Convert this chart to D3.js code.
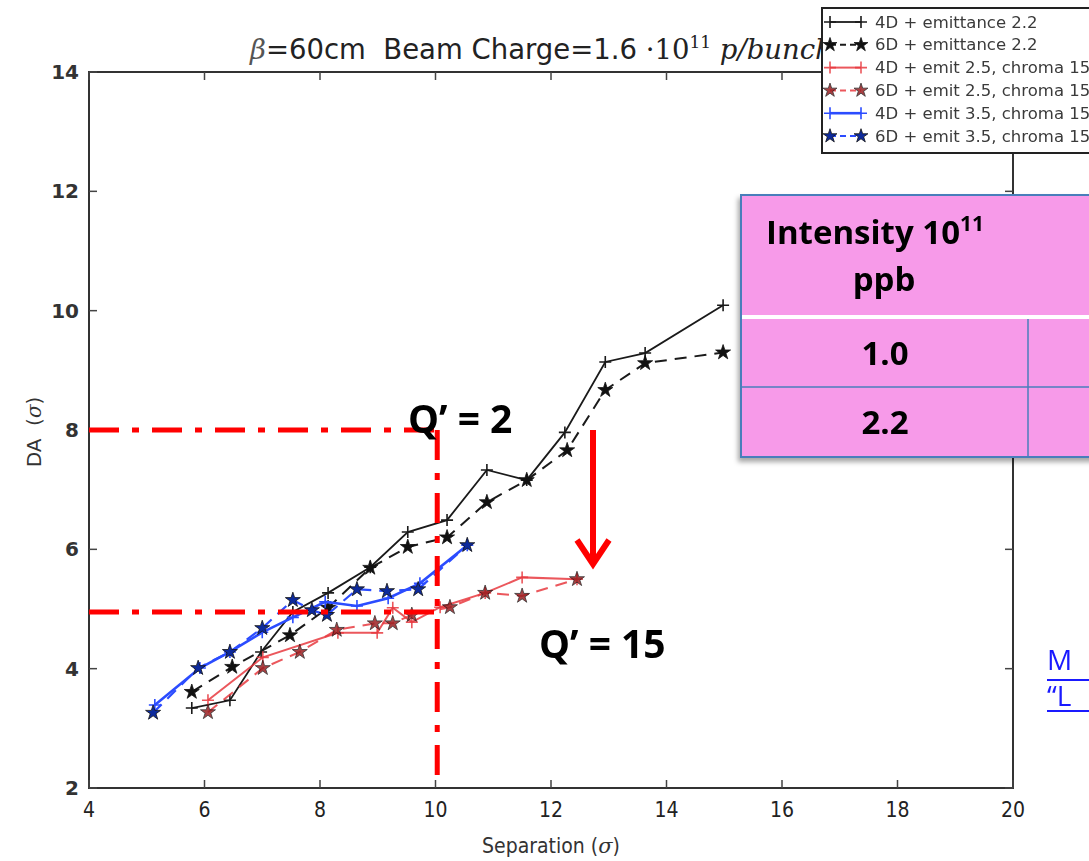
<!DOCTYPE html>
<html>
<head>
<meta charset="utf-8">
<script src="https://cdn.jsdelivr.net/npm/d3@7"></script>
<style>
  html, body { margin: 0; padding: 0; background: #fff; }
  svg { display: block; }
  text { white-space: pre; }
</style>
</head>
<body>
<svg id="chart" width="1089" height="861"></svg>
<script>
// axis ticks
const xTicks = [4, 6, 8, 10, 12, 14, 16, 18, 20];
const yTicks = [2, 4, 6, 8, 10, 12, 14];

// 4D + emittance 2.2
const sep4dE22 = [5.78, 6.44, 6.98, 7.53, 8.14, 8.87, 9.52, 10.20, 10.89, 11.58, 12.24, 12.94, 13.63, 14.98];
const da4dE22 = [3.34, 3.47, 4.28, 4.95, 5.27, 5.70, 6.29, 6.49, 7.33, 7.16, 7.96, 9.14, 9.29, 10.09];
// 6D + emittance 2.2
const sep6dE22 = [5.78, 6.48, 7.48, 8.14, 8.87, 9.52, 10.20, 10.89, 11.58, 12.28, 12.94, 13.63, 14.98];
const da6dE22 = [3.61, 4.03, 4.56, 5.02, 5.69, 6.04, 6.20, 6.79, 7.16, 7.66, 8.67, 9.12, 9.30];
// 4D + emit 2.5, chroma 15
const sep4dE25 = [6.06, 7.01, 8.31, 8.99, 9.26, 9.59, 10.08, 10.86, 11.50, 12.45];
const da4dE25 = [3.47, 4.19, 4.60, 4.60, 5.02, 4.78, 5.03, 5.27, 5.53, 5.50];
// 6D + emit 2.5, chroma 15
const sep6dE25 = [6.06, 7.01, 7.65, 8.29, 8.95, 9.26, 9.59, 10.25, 10.86, 11.50, 12.45];
const da6dE25 = [3.27, 4.01, 4.28, 4.65, 4.76, 4.76, 4.90, 5.03, 5.27, 5.22, 5.50];
// 4D + emit 3.5, chroma 15
const sep4dE35 = [5.14, 5.92, 6.44, 7.00, 7.53, 8.09, 8.64, 9.18, 9.73, 10.55];
const da4dE35 = [3.39, 4.01, 4.28, 4.61, 4.86, 5.12, 5.05, 5.18, 5.43, 6.07];
// 6D + emit 3.5, chroma 15
const sep6dE35 = [5.11, 5.89, 6.44, 7.00, 7.53, 7.86, 8.12, 8.64, 9.16, 9.70, 10.55];
const da6dE35 = [3.26, 4.01, 4.28, 4.68, 5.15, 4.98, 4.90, 5.33, 5.30, 5.33, 6.07];

const seriesNames = [
    "4D + emittance 2.2",
    "6D + emittance 2.2",
    "4D + emit 2.5, chroma 15",
    "6D + emit 2.5, chroma 15",
    "4D + emit 3.5, chroma 15",
    "6D + emit 3.5, chroma 15"
];

// Q' guide lines (separation, DA)
const guideSep = 10.03;
const guideDaHigh = 8.0;
const guideDaLow = 4.95;

// table on the right
const tableHeader = ["Intensity 10", "11", "ppb"];
const tableRows = ["1.0", "2.2"];

const svg = d3.select("#chart");
const margin = { left: 89, top: 72, right: 1013, bottom: 788 };

const x = d3.scaleLinear().domain([4, 20]).range([margin.left, margin.right]);
const y = d3.scaleLinear().domain([2, 14]).range([margin.bottom, margin.top]);

const zip = (xs, ys) => xs.map((v, i) => [v, ys[i]]);

const series = [
    { name: seriesNames[0], pts: zip(sep4dE22, da4dE22), color: "#1a1a1a", dash: null, marker: "plus", mfill: "#1a1a1a", width: 1.8, opacity: 1 },
    { name: seriesNames[1], pts: zip(sep6dE22, da6dE22), color: "#1a1a1a", dash: "12,8", marker: "star", mfill: "#111", width: 2, opacity: 1 },
    { name: seriesNames[2], pts: zip(sep4dE25, da4dE25), color: "#e8393f", dash: null, marker: "plus", mfill: "#e8393f", width: 2, opacity: 0.85 },
    { name: seriesNames[3], pts: zip(sep6dE25, da6dE25), color: "#e8393f", dash: "12,8", marker: "star", mfill: "#9a1f22", width: 2, opacity: 0.85 },
    { name: seriesNames[4], pts: zip(sep4dE35, da4dE35), color: "#2b4cff", dash: null, marker: "plus", mfill: "#2b4cff", width: 2.6, opacity: 1 },
    { name: seriesNames[5], pts: zip(sep6dE35, da6dE35), color: "#2b4cff", dash: "12,8", marker: "star", mfill: "#0d2a9c", width: 2.2, opacity: 1 }
];

// title (partly hidden behind legend, as in the figure)
const title = svg.append("text")
    .attr("x", 250)
    .attr("y", 59)
    .attr("font-family", "DejaVu Sans")
    .attr("font-size", 27.5)
    .attr("fill", "#222");
title.append("tspan").attr("font-family", "DejaVu Serif").attr("font-style", "italic").attr("fill", "#555").text("β");
title.append("tspan").text("=60cm  Beam Charge=1.6 ");
title.append("tspan").attr("font-family", "DejaVu Serif").text("·10");
title.append("tspan").attr("font-family", "DejaVu Serif").attr("font-size", 17).attr("dy", -11).text("11");
title.append("tspan").attr("font-family", "DejaVu Serif").attr("font-style", "italic").attr("dy", 11).text(" p/bunch");

// plot frame
svg.append("rect")
    .attr("x", margin.left)
    .attr("y", margin.top)
    .attr("width", margin.right - margin.left)
    .attr("height", margin.bottom - margin.top)
    .attr("fill", "none")
    .attr("stroke", "#333")
    .attr("stroke-width", 2);

// inward ticks on all four sides
const tickLen = 8;
const tickG = svg.append("g").attr("stroke", "#444").attr("stroke-width", 1.5);
xTicks.forEach((t) => {
    tickG.append("line").attr("x1", x(t)).attr("x2", x(t)).attr("y1", margin.bottom).attr("y2", margin.bottom - tickLen);
    tickG.append("line").attr("x1", x(t)).attr("x2", x(t)).attr("y1", margin.top).attr("y2", margin.top + tickLen);
});
yTicks.forEach((t) => {
    tickG.append("line").attr("x1", margin.left).attr("x2", margin.left + tickLen).attr("y1", y(t)).attr("y2", y(t));
    tickG.append("line").attr("x1", margin.right).attr("x2", margin.right - tickLen).attr("y1", y(t)).attr("y2", y(t));
});

svg.append("g")
    .selectAll("text")
    .data(xTicks)
    .enter()
    .append("text")
    .attr("x", (d) => x(d))
    .attr("y", 817)
    .attr("text-anchor", "middle")
    .attr("font-family", "DejaVu Sans Condensed, DejaVu Sans")
    .attr("font-size", 21)
    .attr("fill", "#222")
    .text((d) => d);

svg.append("g")
    .selectAll("text")
    .data(yTicks)
    .enter()
    .append("text")
    .attr("x", 79)
    .attr("y", (d) => y(d) + 7)
    .attr("text-anchor", "end")
    .attr("font-family", "DejaVu Sans")
    .attr("font-weight", "bold")
    .attr("font-size", 20)
    .attr("fill", "#333")
    .text((d) => d);

// axis labels
const xl = svg.append("text")
    .attr("x", 551)
    .attr("y", 853)
    .attr("text-anchor", "middle")
    .attr("font-family", "DejaVu Sans Condensed, DejaVu Sans")
    .attr("font-size", 21)
    .attr("fill", "#333");
xl.append("tspan").text("Separation (");
xl.append("tspan").attr("font-family", "DejaVu Serif").attr("font-style", "italic").text("σ");
xl.append("tspan").text(")");

const yl = svg.append("text")
    .attr("transform", "translate(41,432) rotate(-90)")
    .attr("text-anchor", "middle")
    .attr("font-family", "DejaVu Sans")
    .attr("font-size", 20)
    .attr("fill", "#333");
yl.append("tspan").text("DA  (");
yl.append("tspan").attr("font-family", "DejaVu Serif").attr("font-style", "italic").text("σ");
yl.append("tspan").text(")");

// markers
function drawMarker(g, kind, fill, color, px, py, size) {
    if (kind === "star") {
        g.append("path")
            .attr("d", d3.symbol().type(d3.symbolStar).size(size || 70)())
            .attr("transform", `translate(${px},${py})`)
            .attr("fill", fill)
            .attr("stroke", "#111")
            .attr("stroke-width", 0.8);
    } else {
        const h = 6;
        g.append("path")
            .attr("d", `M${px - h},${py}H${px + h}M${px},${py - h}V${py + h}`)
            .attr("stroke", color)
            .attr("stroke-width", 1.6)
            .attr("fill", "none");
    }
}

const line = d3.line().x((d) => x(d[0])).y((d) => y(d[1]));
const dataG = svg.append("g");

series.forEach((s) => {
    dataG.append("path")
        .attr("d", line(s.pts))
        .attr("fill", "none")
        .attr("stroke", s.color)
        .attr("stroke-width", s.width)
        .attr("stroke-opacity", s.opacity)
        .attr("stroke-dasharray", s.dash);
    const mg = dataG.append("g").attr("opacity", s.opacity);
    s.pts.forEach((p) => drawMarker(mg, s.marker, s.mfill, s.color, x(p[0]), y(p[1])));
});

// red dash-dot guide lines
const guideG = svg.append("g")
    .attr("stroke", "#ff0000")
    .attr("stroke-width", 5)
    .attr("stroke-dasharray", "30,13,7,13")
    .attr("fill", "none");
guideG.append("line").attr("x1", x(4)).attr("x2", x(guideSep)).attr("y1", y(guideDaHigh)).attr("y2", y(guideDaHigh));
guideG.append("line").attr("x1", x(4)).attr("x2", x(guideSep)).attr("y1", y(guideDaLow)).attr("y2", y(guideDaLow));
guideG.append("line").attr("x1", x(guideSep)).attr("x2", x(guideSep)).attr("y1", y(guideDaHigh)).attr("y2", y(2));

// Q' annotations
svg.append("text")
    .attr("x", 408)
    .attr("y", 433)
    .attr("font-family", "Open Sans")
    .attr("font-weight", "bold")
    .attr("font-size", 39)
    .attr("fill", "#000")
    .text("Q\u2019 = 2");
svg.append("text")
    .attr("x", 539)
    .attr("y", 658)
    .attr("font-family", "Open Sans")
    .attr("font-weight", "bold")
    .attr("font-size", 39)
    .attr("fill", "#000")
    .text("Q\u2019 = 15");

// red arrow
svg.append("path")
    .attr("d", "M593,430V564M577,540L593,564L609,540")
    .attr("fill", "none")
    .attr("stroke", "#ff0000")
    .attr("stroke-width", 6);

// legend
const legG = svg.append("g");
legG.append("rect")
    .attr("x", 822)
    .attr("y", 8)
    .attr("width", 300)
    .attr("height", 145)
    .attr("fill", "#fff")
    .attr("stroke", "#222")
    .attr("stroke-width", 2);
series.forEach((s, i) => {
    const ry = 22 + i * 22.8;
    legG.append("line")
        .attr("x1", 830).attr("x2", 861).attr("y1", ry).attr("y2", ry)
        .attr("stroke", s.color)
        .attr("stroke-width", s.width)
        .attr("stroke-opacity", s.opacity)
        .attr("stroke-dasharray", s.dash ? "6,4" : null);
    const mg = legG.append("g").attr("opacity", s.opacity);
    drawMarker(mg, s.marker, s.mfill, s.color, 830, ry, 60);
    drawMarker(mg, s.marker, s.mfill, s.color, 861, ry, 60);
    legG.append("text")
        .attr("x", 875)
        .attr("y", ry + 5.5)
        .attr("font-family", "DejaVu Sans")
        .attr("font-size", 16.5)
        .attr("fill", "#3a3a3a")
        .text(s.name);
});

// pink table
const defs = svg.append("defs");
defs.append("filter")
    .attr("id", "shadow")
    .attr("x", "-10%").attr("y", "-10%").attr("width", "130%").attr("height", "130%")
    .append("feDropShadow")
    .attr("dx", -2).attr("dy", 4).attr("stdDeviation", 2.5)
    .attr("flood-color", "#000").attr("flood-opacity", 0.35);

const tbl = svg.append("g");
const tx0 = 741, ty0 = 195, ty1 = 457, tx1 = 1200;
tbl.append("rect")
    .attr("x", tx0).attr("y", ty0)
    .attr("width", tx1 - tx0).attr("height", ty1 - ty0)
    .attr("fill", "#f79ae9")
    .attr("stroke", "#4a7ebb")
    .attr("stroke-width", 2)
    .attr("filter", "url(#shadow)");
tbl.append("line").attr("x1", tx0 + 1).attr("x2", 1089).attr("y1", 317).attr("y2", 317)
    .attr("stroke", "#fff").attr("stroke-width", 4);
tbl.append("line").attr("x1", tx0).attr("x2", 1089).attr("y1", 387).attr("y2", 387)
    .attr("stroke", "#4a7ebb").attr("stroke-width", 1.5);
tbl.append("line").attr("x1", 1028).attr("x2", 1028).attr("y1", 319).attr("y2", ty1)
    .attr("stroke", "#4a7ebb").attr("stroke-width", 1.5);

const hdr = tbl.append("text")
    .attr("x", 766).attr("y", 244)
    .attr("font-family", "Open Sans").attr("font-weight", "bold")
    .attr("font-size", 33).attr("fill", "#000");
hdr.append("tspan").text(tableHeader[0]);
hdr.append("tspan").attr("font-size", 21).attr("dy", -13).text(tableHeader[1]);
tbl.append("text")
    .attr("x", 884).attr("y", 291).attr("text-anchor", "middle")
    .attr("font-family", "Open Sans").attr("font-weight", "bold")
    .attr("font-size", 33).attr("fill", "#000")
    .text(tableHeader[2]);
tableRows.forEach((r, i) => {
    tbl.append("text")
        .attr("x", 885).attr("y", 365 + i * 69).attr("text-anchor", "middle")
        .attr("font-family", "Open Sans").attr("font-weight", "bold")
        .attr("font-size", 33).attr("fill", "#000")
        .text(r);
});

// blue hyperlink fragments at the right edge
const linkG = svg.append("g").attr("fill", "#1a1aff").attr("font-family", "Open Sans").attr("font-size", 28);
linkG.append("text").attr("x", 1047).attr("y", 670).text("M");
linkG.append("text").attr("x", 1047).attr("y", 706).text("\u201cL");
linkG.append("rect").attr("x", 1047).attr("y", 679).attr("width", 45).attr("height", 2);
linkG.append("rect").attr("x", 1047).attr("y", 710).attr("width", 45).attr("height", 2);
</script>
</body>
</html>
